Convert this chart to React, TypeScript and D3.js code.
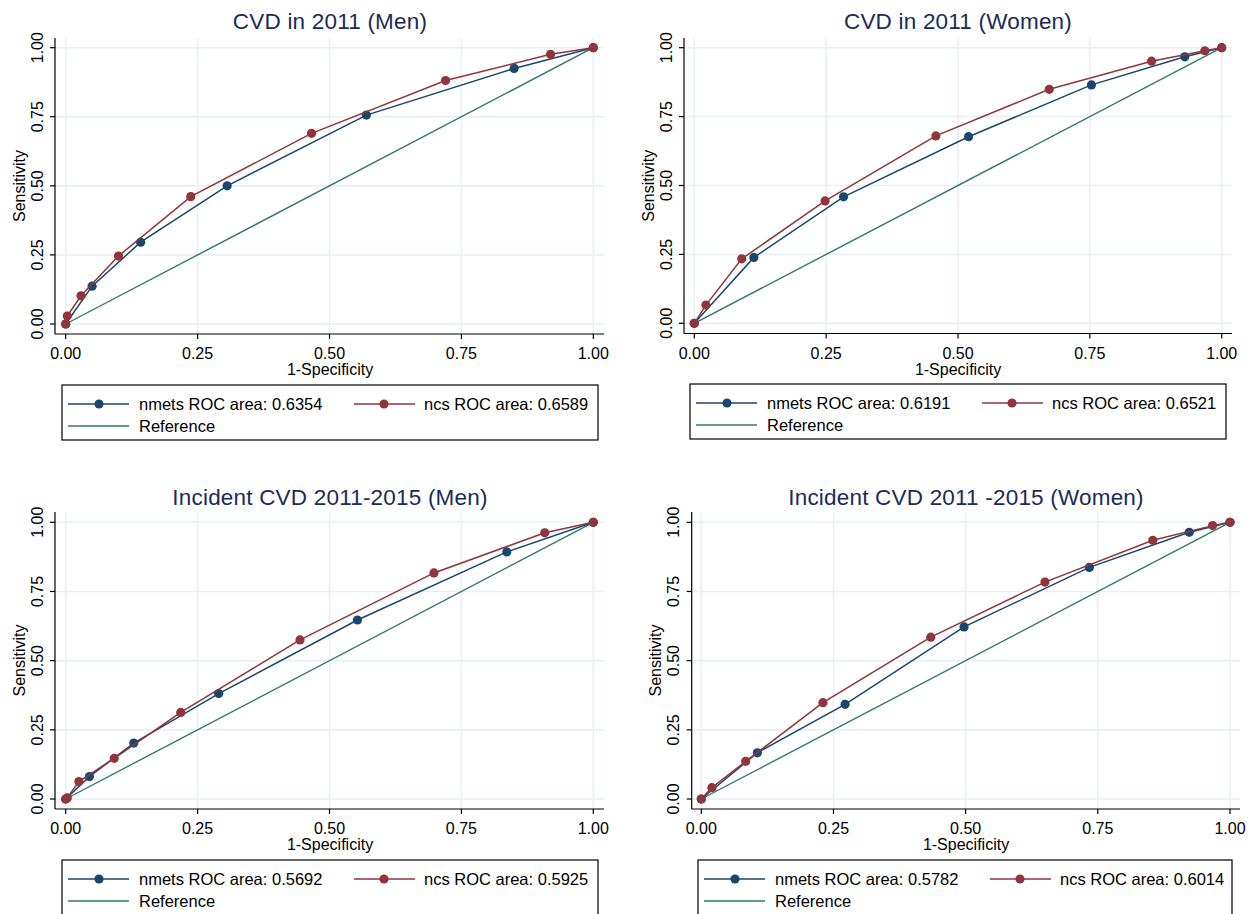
import React from "react";
import * as d3 from "d3";

// ---------- data ----------
const panelTitles = [
  "CVD in 2011 (Men)",
  "CVD in 2011 (Women)",
  "Incident CVD 2011-2015 (Men)",
  "Incident CVD 2011 -2015 (Women)",
];
const nmetsAreas = ["0.6354", "0.6191", "0.5692", "0.5782"];
const ncsAreas = ["0.6589", "0.6521", "0.5925", "0.6014"];
const tickValues = [0, 0.25, 0.5, 0.75, 1];
const tickLabels = ["0.00", "0.25", "0.50", "0.75", "1.00"];

const nmetsX = [
  [0, 0.05, 0.142, 0.306, 0.57, 0.85, 1],
  [0, 0.113, 0.283, 0.52, 0.753, 0.93, 1],
  [0, 0.045, 0.129, 0.29, 0.553, 0.836, 1],
  [0, 0.106, 0.272, 0.497, 0.734, 0.923, 1],
];
const nmetsY = [
  [0, 0.137, 0.296, 0.5, 0.756, 0.925, 1],
  [0, 0.239, 0.459, 0.677, 0.865, 0.967, 1],
  [0, 0.081, 0.202, 0.381, 0.647, 0.893, 1],
  [0, 0.167, 0.342, 0.622, 0.837, 0.964, 1],
];
const ncsX = [
  [0, 0.003, 0.029, 0.1, 0.237, 0.466, 0.72, 0.919, 1],
  [0, 0.022, 0.09, 0.248, 0.458, 0.673, 0.867, 0.968, 1],
  [0, 0.003, 0.025, 0.092, 0.218, 0.444, 0.698, 0.908, 1],
  [0, 0.02, 0.084, 0.23, 0.434, 0.65, 0.854, 0.967, 1],
];
const ncsY = [
  [0, 0.029, 0.102, 0.246, 0.461, 0.69, 0.881, 0.976, 1],
  [0, 0.066, 0.234, 0.444, 0.68, 0.849, 0.951, 0.989, 1],
  [0, 0.004, 0.063, 0.147, 0.313, 0.575, 0.817, 0.962, 1],
  [0, 0.041, 0.136, 0.348, 0.585, 0.784, 0.935, 0.988, 1],
];
const referenceX = [0, 1];
const referenceY = [0, 1];

// ---------- layout ----------
const layouts = [
  { x0: 65.7, x1: 593.3, y0: 324, y1: 47.7, axL: 55, axB: 334, right: 604, top: 38, cx: 330, titleY: 29, ytX: 19, lg: { x: 62, y: 385, w: 536 } },
  { x0: 694.3, x1: 1221.7, y0: 323.3, y1: 47.7, axL: 684, axB: 333.5, right: 1232, top: 38, cx: 958, titleY: 29, ytX: 648, lg: { x: 690, y: 384, w: 536 } },
  { x0: 65.7, x1: 593.3, y0: 799, y1: 522.3, axL: 55, axB: 809, right: 604, top: 512, cx: 330, titleY: 505, ytX: 19, lg: { x: 62, y: 860, w: 536 } },
  { x0: 701.3, x1: 1230, y0: 799, y1: 522.3, axL: 691.7, axB: 809, right: 1240, top: 512, cx: 966, titleY: 505, ytX: 655, lg: { x: 698, y: 860, w: 534 } },
];

const BLUE = "#1a476f";
const RED = "#90353b";
const TEAL = "#2f7a6b";
const GRID = "#e9f0f2";
const TITLE = "#1c2b59";
const FONT = "Arial, 'Liberation Sans', Helvetica, sans-serif";

function Panel({ i }: { i: number }) {
  const L = layouts[i];
  const x = d3.scaleLinear().domain([0, 1]).range([L.x0, L.x1]);
  const y = d3.scaleLinear().domain([0, 1]).range([L.y0, L.y1]);
  const line = d3
    .line<[number, number]>()
    .x((d) => x(d[0]))
    .y((d) => y(d[1]));
  const nm: [number, number][] = nmetsX[i].map((v, k) => [v, nmetsY[i][k]]);
  const nc: [number, number][] = ncsX[i].map((v, k) => [v, ncsY[i][k]]);
  const rf: [number, number][] = referenceX.map((v, k) => [v, referenceY[k]]);
  const lg = L.lg;
  const r1 = lg.y + 19;
  const r2 = lg.y + 41;
  return (
    <g fontFamily={FONT}>
      {/* grid */}
      {tickValues.map((t) => (
        <line key={"gx" + t} x1={x(t)} x2={x(t)} y1={L.top} y2={L.axB} stroke={GRID} strokeWidth={1.5} />
      ))}
      {tickValues.map((t) => (
        <line key={"gy" + t} x1={L.axL} x2={L.right} y1={y(t)} y2={y(t)} stroke={GRID} strokeWidth={1.5} />
      ))}
      {/* axes */}
      <line x1={L.axL} x2={L.axL} y1={L.top} y2={L.axB} stroke="#000" strokeWidth={1.2} />
      <line x1={L.axL} x2={L.right} y1={L.axB} y2={L.axB} stroke="#000" strokeWidth={1.2} />
      {tickValues.map((t, k) => (
        <g key={"ty" + t}>
          <line x1={L.axL - 5} x2={L.axL} y1={y(t)} y2={y(t)} stroke="#000" strokeWidth={1.2} />
          <text
            transform={`translate(${L.axL - 18},${y(t)}) rotate(-90)`}
            textAnchor="middle"
            dominantBaseline="central"
            fontSize={16}
            fill="#000"
          >
            {tickLabels[k]}
          </text>
        </g>
      ))}
      {tickValues.map((t, k) => (
        <g key={"tx" + t}>
          <line x1={x(t)} x2={x(t)} y1={L.axB} y2={L.axB + 5} stroke="#000" strokeWidth={1.2} />
          <text x={x(t)} y={L.axB + 25} textAnchor="middle" fontSize={16} fill="#000">
            {tickLabels[k]}
          </text>
        </g>
      ))}
      <text x={L.cx} y={L.axB + 41} textAnchor="middle" fontSize={16} fill="#000">
        1-Specificity
      </text>
      <text
        transform={`translate(${L.ytX},${(L.top + L.axB) / 2}) rotate(-90)`}
        textAnchor="middle"
        dominantBaseline="central"
        fontSize={16}
        fill="#000"
      >
        Sensitivity
      </text>
      <text x={L.cx} y={L.titleY} textAnchor="middle" fontSize={22.5} letterSpacing={0.2} fill={TITLE}>
        {panelTitles[i]}
      </text>
      {/* series */}
      <path d={line(rf) || ""} fill="none" stroke={TEAL} strokeWidth={1.4} />
      <path d={line(nm) || ""} fill="none" stroke={BLUE} strokeWidth={1.5} />
      {nm.map((d, k) => (
        <circle key={"nm" + k} cx={x(d[0])} cy={y(d[1])} r={4.6} fill={BLUE} />
      ))}
      <path d={line(nc) || ""} fill="none" stroke={RED} strokeWidth={1.5} />
      {nc.map((d, k) => (
        <circle key={"nc" + k} cx={x(d[0])} cy={y(d[1])} r={4.6} fill={RED} />
      ))}
      {/* legend */}
      <rect x={lg.x} y={lg.y} width={lg.w} height={55} fill="#fff" stroke="#000" strokeWidth={1.2} />
      <line x1={lg.x + 6} x2={lg.x + 67} y1={r1} y2={r1} stroke={BLUE} strokeWidth={1.5} />
      <circle cx={lg.x + 37} cy={r1} r={4.6} fill={BLUE} />
      <text x={lg.x + 77} y={r1} dominantBaseline="central" fontSize={16.5} fill="#000">
        {"nmets ROC area: " + nmetsAreas[i]}
      </text>
      <line x1={lg.x + 292} x2={lg.x + 353} y1={r1} y2={r1} stroke={RED} strokeWidth={1.5} />
      <circle cx={lg.x + 322} cy={r1} r={4.6} fill={RED} />
      <text x={lg.x + 362} y={r1} dominantBaseline="central" fontSize={16.5} fill="#000">
        {"ncs ROC area: " + ncsAreas[i]}
      </text>
      <line x1={lg.x + 6} x2={lg.x + 67} y1={r2} y2={r2} stroke={TEAL} strokeWidth={1.5} />
      <text x={lg.x + 77} y={r2} dominantBaseline="central" fontSize={16.5} fill="#000">
        Reference
      </text>
    </g>
  );
}

export default function App() {
  return (
    <svg
      width={1255}
      height={914}
      style={{ position: "absolute", left: 0, top: 0, background: "#fff" }}
    >
      <rect width={1255} height={914} fill="#fff" />
      {[0, 1, 2, 3].map((i) => (
        <Panel key={i} i={i} />
      ))}
    </svg>
  );
}
